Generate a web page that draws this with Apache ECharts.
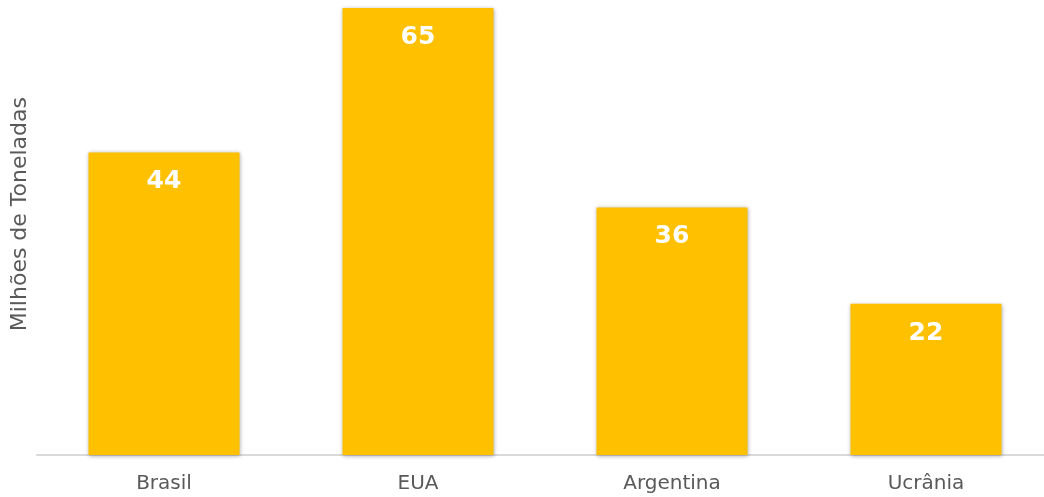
<!DOCTYPE html>
<html>
<head>
<meta charset="utf-8">
<script src="https://cdn.jsdelivr.net/npm/echarts@6/dist/echarts.min.js"></script>
<style>
html,body{margin:0;padding:0;background:#fff;overflow:hidden;}
#chart{width:1053px;height:497px;}
</style>
</head>
<body>
<div id="chart"></div>
<script>
const categories = ['Brasil', 'EUA', 'Argentina', 'Ucrânia'];
const values = [44, 65, 36, 22];
const axisTitle = 'Milhões de Toneladas';

const chart = echarts.init(document.getElementById('chart'), null, {renderer: 'canvas'});
chart.setOption({
  animation: false,
  grid: {left: 37, top: 8, right: 0, bottom: 42, containLabel: false},
  xAxis: {
    type: 'category',
    data: categories,
    axisLine: {lineStyle: {color: '#d9d9d9', width: 2}},
    axisTick: {show: false},
    axisLabel: {color: '#595959', fontSize: 20, fontFamily: 'DejaVu Sans', margin: 19}
  },
  yAxis: {
    type: 'value',
    min: 0,
    max: 65,
    axisLine: {show: false},
    axisTick: {show: false},
    axisLabel: {show: false},
    splitLine: {show: false}
  },
  graphic: [{
    type: 'text',
    left: 9,
    top: 97,
    rotation: Math.PI / 2,
    style: {text: axisTitle, fill: '#595959', font: '22px "DejaVu Sans"'},
    silent: true
  }],
  series: [{
    type: 'bar',
    data: values,
    barWidth: 151,
    itemStyle: {color: '#FFC000', shadowBlur: 4, shadowColor: 'rgba(0,0,0,0.35)', shadowOffsetX: 0, shadowOffsetY: 1},
    label: {
      show: true,
      position: 'insideTop',
      distance: 17,
      color: '#ffffff',
      fontWeight: 'bold',
      fontSize: 25,
      fontFamily: 'DejaVu Sans'
    }
  }]
});
</script>
</body>
</html>
